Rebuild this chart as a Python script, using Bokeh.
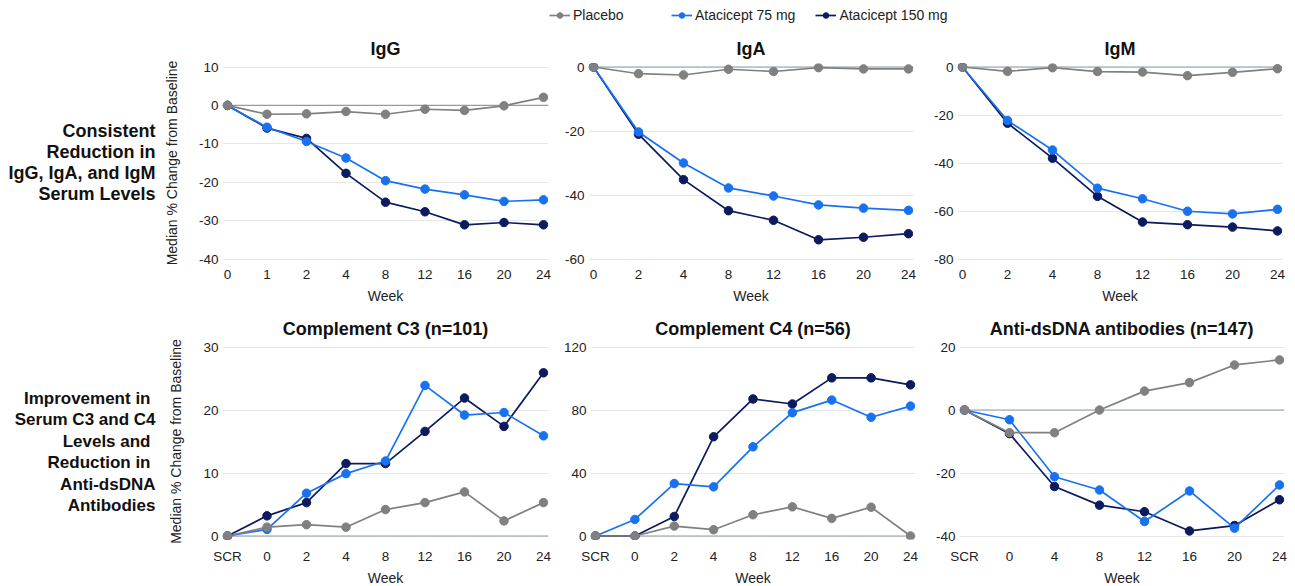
from bokeh.plotting import figure
from bokeh.models import Range1d, FixedTicker, Span, Legend, LegendItem
from bokeh.layouts import column, row
from bokeh.core.properties import value
from bokeh.embed import file_html
from bokeh.resources import INLINE

# ---------------- data ----------------
series_names = ["Placebo", "Atacicept 75 mg", "Atacicept 150 mg"]

weeks_igg = ["0", "1", "2", "4", "8", "12", "16", "20", "24"]
weeks_igam = ["0", "2", "4", "8", "12", "16", "20", "24"]
weeks_comp = ["SCR", "0", "2", "4", "8", "12", "16", "20", "24"]
weeks_dna = ["SCR", "0", "4", "8", "12", "16", "20", "24"]

igg_placebo = [0, -2.3, -2.2, -1.6, -2.3, -1.0, -1.3, -0.1, 2.1]
igg_75 = [0, -5.7, -9.4, -13.7, -19.6, -21.8, -23.3, -25.0, -24.6]
igg_150 = [0, -5.9, -8.6, -17.7, -25.2, -27.7, -31.1, -30.5, -31.1]

iga_placebo = [0, -2.1, -2.5, -0.7, -1.4, -0.2, -0.6, -0.6]
iga_75 = [0, -20.3, -30.0, -37.8, -40.3, -43.1, -44.1, -44.8]
iga_150 = [0, -21.0, -35.2, -44.9, -47.9, -54.0, -53.2, -52.1]

igm_placebo = [0, -1.8, -0.3, -1.9, -2.1, -3.6, -2.2, -0.7]
igm_75 = [0, -22.3, -34.6, -50.5, -54.9, -60.1, -61.2, -59.3]
igm_150 = [0, -23.4, -38.0, -53.9, -64.6, -65.7, -66.7, -68.3]

c3_placebo = [0, 1.4, 1.8, 1.4, 4.2, 5.3, 7.0, 2.4, 5.3]
c3_75 = [0, 1.05, 6.8, 9.9, 11.9, 23.9, 19.2, 19.6, 15.9]
c3_150 = [0, 3.2, 5.3, 11.5, 11.5, 16.6, 21.9, 17.4, 25.9]

c4_placebo = [0, 0, 6.3, 4.0, 13.5, 18.5, 11.2, 18.3, 0]
c4_75 = [0, 10.5, 33.3, 31.2, 56.6, 78.3, 86.3, 75.4, 82.5]
c4_150 = [0, 0, 12.4, 63.0, 87.0, 83.8, 100.4, 100.4, 96.0]

dna_placebo = [0, -7.2, -7.2, 0, 6.0, 8.7, 14.3, 15.9]
dna_75 = [0, -3.1, -21.2, -25.4, -35.4, -25.7, -37.5, -23.8]
dna_150 = [0, -7.5, -24.3, -30.2, -32.3, -38.4, -36.7, -28.5]

yticks_igg = [-40, -30, -20, -10, 0, 10]
yticks_iga = [-60, -40, -20, 0]
yticks_igm = [-80, -60, -40, -20, 0]
yticks_c3 = [0, 10, 20, 30]
yticks_c4 = [0, 40, 80, 120]
yticks_dna = [-40, -20, 0, 20]

row1_label = ["Consistent", "Reduction in", "IgG, IgA, and IgM", "Serum Levels"]
row2_label = ["Improvement in", "Serum C3 and C4", "Levels and", "Reduction in",
              "Anti-dsDNA", "Antibodies"]

# ---------------- style ----------------
FONT = "Liberation Sans"
COLORS = {"Placebo": "#808080", "Atacicept 75 mg": "#1872f0", "Atacicept 150 mg": "#0c1a5e"}
TEXT = "#222222"

LABEL_W = 157
FW = [326, 325, 325]
BL = [65, 28, 32]
BR = [12, 12, 8]
LEG_H = 24
R1 = dict(fh=199, bt=39, bb=47, ls=7, als=6)
R2 = dict(fh=196, bt=34, bb=46, ls=9, als=3)


def panel(title, cats, placebo, d75, d150, yticks, col, r, ylabel=None):
    n = len(cats)
    idx = list(range(n))
    frame_w, frame_h = FW[col], r["fh"]
    span = yticks[-1] - yticks[0]
    ypad = span * 3.5 / (frame_h - 7)
    xpad = 5.0 * (n - 1) / (frame_w - 10)
    p = figure(frame_width=frame_w, frame_height=frame_h,
               x_range=Range1d(-xpad, n - 1 + xpad),
               y_range=Range1d(yticks[0] - ypad, yticks[-1] + ypad),
               toolbar_location=None, output_backend="svg",
               min_border_left=BL[col], min_border_right=BR[col],
               min_border_top=r["bt"], min_border_bottom=r["bb"], title=title)
    p.title.align = "center"
    p.title.text_font = FONT
    p.title.text_font_size = "18px"
    p.title.text_font_style = "bold"
    p.title.text_color = "#111111"
    p.outline_line_color = None
    p.xgrid.visible = False
    p.ygrid.grid_line_color = "#e6e6e6"
    p.ygrid.grid_line_width = 1
    p.add_layout(Span(location=0, dimension="width", line_color="#8e9ca8",
                      line_width=1.2, level="underlay"))
    for name, vals in (("Atacicept 150 mg", d150), ("Atacicept 75 mg", d75),
                       ("Placebo", placebo)):
        c = COLORS[name]
        p.line(idx, vals, line_color=c, line_width=1.7)
        p.scatter(idx, vals, size=8.5, fill_color=c, line_color=c)
    p.xaxis.ticker = FixedTicker(ticks=idx)
    p.xaxis.major_label_overrides = {i: c for i, c in enumerate(cats)}
    p.yaxis.ticker = FixedTicker(ticks=yticks)
    p.yaxis.major_label_overrides = {t: str(t) for t in yticks}
    for ax in p.axis:
        ax.axis_line_color = None
        ax.major_tick_line_color = None
        ax.minor_tick_line_color = None
        ax.major_tick_out = 0
        ax.major_tick_in = 0
        ax.major_label_text_font = FONT
        ax.major_label_text_font_size = "13.5px"
        ax.major_label_text_color = TEXT
        ax.major_label_standoff = 4
        ax.axis_label_text_font = FONT
        ax.axis_label_text_font_size = "14px"
        ax.axis_label_text_font_style = "normal"
        ax.axis_label_text_color = TEXT
    p.xaxis.axis_label = "Week"
    p.xaxis.major_label_standoff = r["ls"]
    p.xaxis.axis_label_standoff = r["als"]
    if ylabel:
        p.yaxis.axis_label = ylabel
        p.yaxis.axis_label_standoff = 16
    return p


def label_fig(lines, offsets, r, frame_top, y0, dy, size):
    fh = r["fh"]
    p = figure(frame_width=LABEL_W, frame_height=fh, x_range=Range1d(0, LABEL_W),
               y_range=Range1d(frame_top + fh, frame_top), toolbar_location=None,
               output_backend="svg", x_axis_type=None, y_axis_type=None,
               min_border_left=0, min_border_right=0,
               min_border_top=r["bt"], min_border_bottom=r["bb"])
    p.outline_line_color = None
    p.grid.visible = False
    xs = [155 - o for o in offsets]
    ys = [y0 + i * dy for i in range(len(lines))]
    p.text(x=xs, y=ys, text=lines, text_align="right", text_baseline="middle",
           text_font=value(FONT), text_font_size=size, text_font_style="bold",
           text_color="#111111")
    return p


YL = "Median % Change from Baseline"

p_igg = panel("IgG", weeks_igg, igg_placebo, igg_75, igg_150, yticks_igg, 0, R1, ylabel=YL)
p_iga = panel("IgA", weeks_igam, iga_placebo, iga_75, iga_150, yticks_iga, 1, R1)
p_igm = panel("IgM", weeks_igam, igm_placebo, igm_75, igm_150, yticks_igm, 2, R1)

p_c3 = panel("Complement C3 (n=101)", weeks_comp, c3_placebo, c3_75, c3_150, yticks_c3,
             0, R2, ylabel=YL)
p_c4 = panel("Complement C4 (n=56)", weeks_comp, c4_placebo, c4_75, c4_150, yticks_c4, 1, R2)
p_dna = panel("Anti-dsDNA antibodies (n=147)", weeks_dna, dna_placebo, dna_75, dna_150,
              yticks_dna, 2, R2)

row1_top = LEG_H
row1_frame_top = row1_top + R1["bt"]
row2_top = row1_frame_top + R1["fh"] + R1["bb"]
row2_frame_top = row2_top + R2["bt"]

lab1 = label_fig(row1_label, [0, 0, 0, 0], R1, row1_frame_top, 130, 21, "18px")
lab2 = label_fig(row2_label, [5, 0, 5, 5, 0, 0], R2, row2_frame_top, 398, 21.4, "17px")

# legend strip
total_w = LABEL_W + sum(FW) + sum(BL) + sum(BR)
lg = figure(frame_width=total_w, frame_height=LEG_H, x_range=Range1d(0, 1),
            y_range=Range1d(0, 1), toolbar_location=None, output_backend="svg",
            x_axis_type=None, y_axis_type=None, min_border=0)
lg.outline_line_color = None
lg.grid.visible = False
items = []
for name in series_names:
    c = COLORS[name]
    lr = lg.line(x=[float("nan")], y=[float("nan")], line_color=c, line_width=1.7)
    sr = lg.scatter(x=[float("nan")], y=[float("nan")], size=7, fill_color=c, line_color=c)
    items.append(LegendItem(label=name, renderers=[lr, sr]))

common = dict(orientation="horizontal", glyph_width=21, glyph_height=14, label_height=14,
              label_standoff=3, padding=0, margin=0, border_line_color=None,
              background_fill_alpha=0, label_text_font=FONT,
              label_text_font_size="14px", label_text_color=TEXT)
leg_a = Legend(items=items[:1], location=(549, 1), spacing=20, **common)
leg_b = Legend(items=items[1:], location=(671, 1), spacing=20, **common)
lg.add_layout(leg_a)
lg.add_layout(leg_b)

layout = column(lg, row(lab1, p_igg, p_iga, p_igm), row(lab2, p_c3, p_c4, p_dna))

open("out.html", "w").write(file_html(layout, INLINE))
